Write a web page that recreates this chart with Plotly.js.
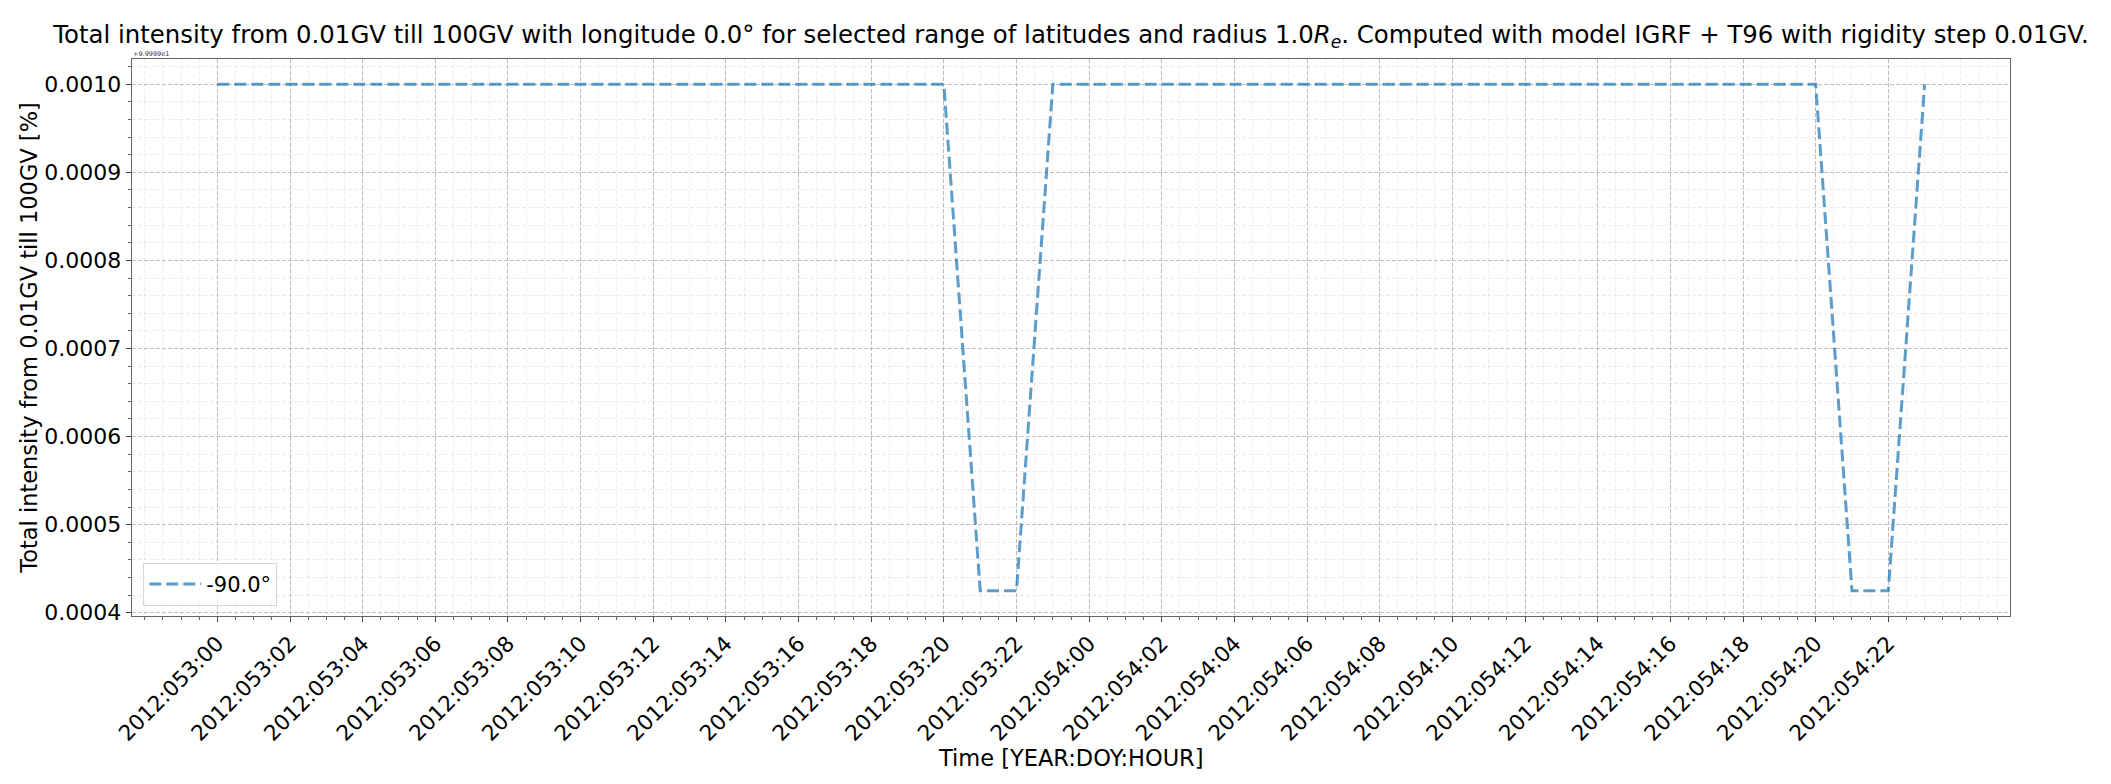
<!DOCTYPE html>
<html>
<head>
<meta charset="utf-8">
<script src="https://cdn.plot.ly/plotly-3.0.1.min.js"></script>
<style>
  html, body { margin: 0; padding: 0; background: #fff; }
  #myPlot { width: 2111px; height: 784px; }
</style>
</head>
<body>
<div id="myPlot"></div>
<script>
// time stamps, one per hour
const times = [
    "2012:053:00", "2012:053:01", "2012:053:02", "2012:053:03", "2012:053:04", "2012:053:05",
    "2012:053:06", "2012:053:07", "2012:053:08", "2012:053:09", "2012:053:10", "2012:053:11",
    "2012:053:12", "2012:053:13", "2012:053:14", "2012:053:15", "2012:053:16", "2012:053:17",
    "2012:053:18", "2012:053:19", "2012:053:20", "2012:053:21", "2012:053:22", "2012:053:23",
    "2012:054:00", "2012:054:01", "2012:054:02", "2012:054:03", "2012:054:04", "2012:054:05",
    "2012:054:06", "2012:054:07", "2012:054:08", "2012:054:09", "2012:054:10", "2012:054:11",
    "2012:054:12", "2012:054:13", "2012:054:14", "2012:054:15", "2012:054:16", "2012:054:17",
    "2012:054:18", "2012:054:19", "2012:054:20", "2012:054:21", "2012:054:22", "2012:054:23"
];

// total intensity [%] at latitude -90.0
const intensity = [
    100.0, 100.0, 100.0, 100.0, 100.0, 100.0, 100.0, 100.0, 100.0, 100.0, 100.0, 100.0,
    100.0, 100.0, 100.0, 100.0, 100.0, 100.0, 100.0, 100.0, 100.0, 99.999425, 99.999425, 100.0,
    100.0, 100.0, 100.0, 100.0, 100.0, 100.0, 100.0, 100.0, 100.0, 100.0, 100.0, 100.0,
    100.0, 100.0, 100.0, 100.0, 100.0, 100.0, 100.0, 100.0, 100.0, 99.999425, 99.999425, 100.0
];

const seriesName = "-90.0°";
const yOffset = 99.999;      // shown as +9.9999e1 above the axis
const offsetLabel = "+9.9999e1";

function plot_intensity() {
    const xValues = times.map((t, i) => i);
    const yValues = intensity.map(v => v - yOffset);

    // labelled ticks every 2 hours
    const tickVals = [];
    const tickText = [];
    for (let i = 0; i < times.length; i += 2) {
        tickVals.push(i);
        tickText.push(times[i]);
    }

    // matplotlib-like 5% margins
    const xPad = (xValues.length - 1) * 0.05;
    const yMin = Math.min(...yValues), yMax = Math.max(...yValues);
    const yPad = (yMax - yMin) * 0.05;

    const data = [{
        x: xValues,
        y: yValues,
        mode: "lines",
        type: "scatter",
        name: seriesName,
        line: { color: "rgba(31,119,180,0.72)", width: 3, dash: "12px,5px" }
    }];

    const font = { family: "DejaVu Sans", color: "#000" };

    const layout = {
        width: 2111,
        height: 784,
        paper_bgcolor: "#fff",
        plot_bgcolor: "#fff",
        font: font,
        margin: { l: 132, r: 101, t: 59, b: 168 },
        title: {
            text: "Total intensity from 0.01GV till 100GV with longitude 0.0° for selected range of latitudes and radius 1.0<i>R<sub>e</sub></i>. Computed with model IGRF + T96 with rigidity step 0.01GV.",
            font: { family: "DejaVu Sans", size: 24.4, color: "#000" },
            xref: "paper", x: 0.5, xanchor: "center",
            y: 0.956, yanchor: "middle"
        },
        xaxis: {
            range: [-xPad, xValues.length - 1 + xPad],
            tickvals: tickVals,
            ticktext: tickText,
            tickangle: -45,
            tickfont: { size: 21.5 },
            ticks: "outside", ticklen: 5, tickcolor: "#444",
            showline: true, mirror: true, linecolor: "#666", linewidth: 1.3,
            showgrid: true, gridcolor: "rgba(170,170,170,0.75)", griddash: "4px,2px", gridwidth: 1,
            zeroline: false,
            minor: { dtick: 0.5, tick0: 0, showgrid: true, gridcolor: "rgba(200,200,200,0.35)", griddash: "4px,2px", gridwidth: 1, ticks: "outside", ticklen: 3, tickcolor: "#666" }
        },
        yaxis: {
            range: [yMin - yPad, yMax + yPad],
            tick0: 0,
            dtick: 0.0001,
            tickformat: ".4f",
            tickfont: { size: 22 },
            ticks: "outside", ticklen: 5, tickcolor: "#444",
            showline: true, mirror: true, linecolor: "#666", linewidth: 1.3,
            showgrid: true, gridcolor: "rgba(170,170,170,0.75)", griddash: "4px,2px", gridwidth: 1,
            zeroline: false,
            minor: { dtick: 0.00002, showgrid: true, gridcolor: "rgba(200,200,200,0.35)", griddash: "4px,2px", gridwidth: 1, ticks: "outside", ticklen: 3, tickcolor: "#666" },
            title: { text: "Total intensity from 0.01GV till 100GV [%]", font: { size: 22.5 }, standoff: 0 }
        },
        showlegend: true,
        legend: {
            x: 0.006, y: 0.018, xanchor: "left", yanchor: "bottom",
            bgcolor: "rgba(255,255,255,0.8)",
            bordercolor: "#d6d6d6", borderwidth: 1,
            itemwidth: 52,
            font: { size: 21 }
        },
        annotations: [{
            text: offsetLabel,
            xref: "paper", yref: "paper",
            x: 0, y: 1, xanchor: "left", yanchor: "bottom",
            showarrow: false, borderpad: 0,
            font: { size: 6.5, color: "#333" }
        }, {
            // x axis title, placed like matplotlib's xlabel
            text: "Time [YEAR:DOY:HOUR]",
            xref: "paper", yref: "paper",
            x: 0.5, y: -0.255, xanchor: "center", yanchor: "middle",
            showarrow: false,
            font: { size: 22.5, color: "#000" }
        }]
    };

    Plotly.newPlot("myPlot", data, layout, { displayModeBar: false, staticPlot: true });
}

plot_intensity();
</script>
</body>
</html>
